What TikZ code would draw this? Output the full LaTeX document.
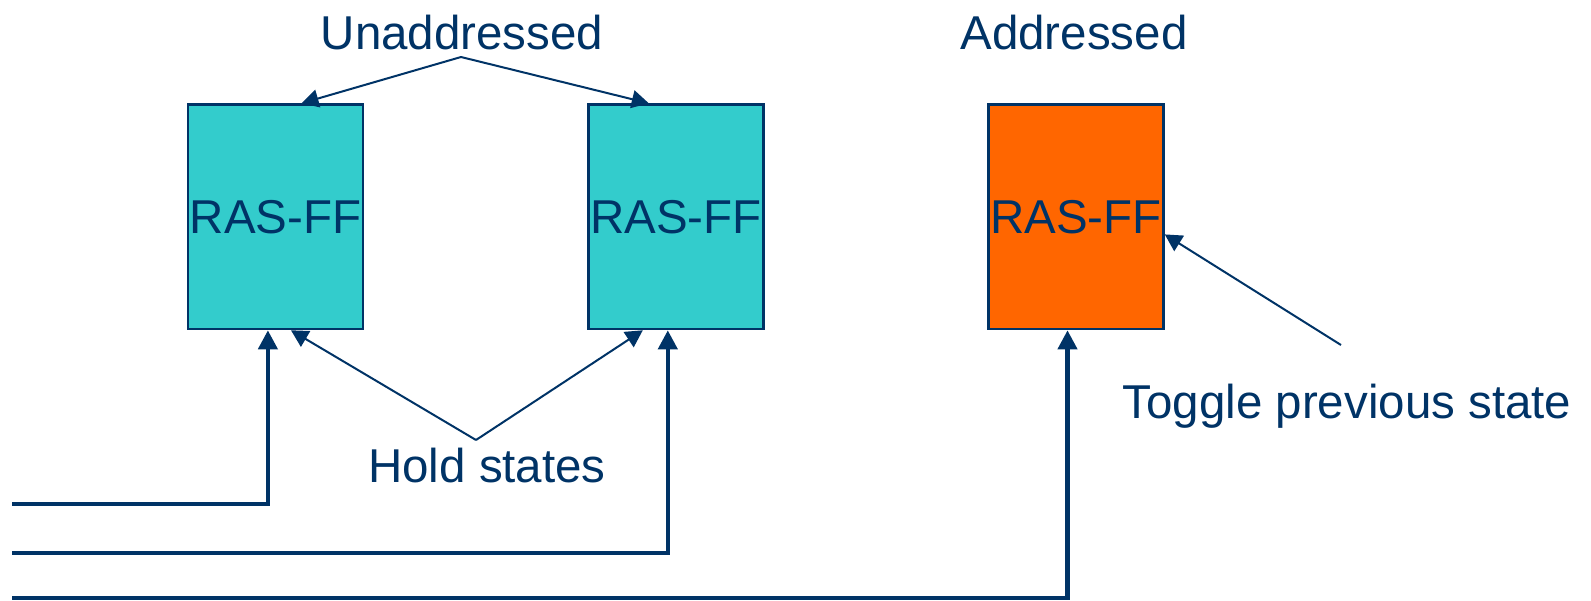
\documentclass[tikz,border=0pt]{standalone}
\usepackage{fontspec}
\setmainfont{Liberation Sans}
\usetikzlibrary{arrows.meta,calc}
\definecolor{navy}{HTML}{003366}
\definecolor{teal}{HTML}{33CCCC}
\definecolor{orng}{HTML}{FF6600}
\tikzset{
  ffbox/.style={draw=navy, line width=2.5pt, minimum width=175pt, minimum height=224.5pt, inner sep=0pt, text=navy, font=\fontsize{47.5}{57}\selectfont},
  lbl/.style={text=navy, font=\fontsize{47.5}{57}\selectfont, inner sep=0pt, anchor=base},
  thinarrow/.style={draw=navy, line width=2pt, -{Triangle[length=17pt,width=18pt]}},
  thickarrow/.style={draw=navy, line width=4.2pt, -{Triangle[length=19pt,width=19pt]}}
}
\begin{document}
\begin{tikzpicture}[x=1pt,y=-1pt]
\useasboundingbox (0,0) rectangle (1591,600);
\node[ffbox, fill=teal] (b1) at (275.5,216.8) {RAS-FF};
\node[ffbox, fill=teal] (b2) at (675.8,216.8) {RAS-FF};
\node[ffbox, fill=orng] (b3) at (1076,216.8) {RAS-FF};
\node[lbl] (un) at (462,49.5) {Unaddressed};
\node[lbl] (ad) at (1074,49) {Addressed};
\node[lbl] (hs) at (487,482) {Hold states};
\node[lbl] (tg) at (1347,418) {Toggle previous state};
\coordinate (ua) at (461,57);
\coordinate (ha) at (476,440);
\coordinate (ta) at (1341,345);
\coordinate (s1) at (12,504);
\coordinate (s2) at (12,553);
\coordinate (s3) at (12,598);
\draw[thinarrow] (ua) -- ($(b1.north)+(26,0)$);
\draw[thinarrow] (ua) -- ($(b2.north)+(-27,0)$);
\draw[thinarrow] (ha) -- ($(b1.south)+(15.5,0)$);
\draw[thinarrow] (ha) -- ($(b2.south)+(-33,0)$);
\draw[thinarrow] (ta) -- ($(b3.east)+(0,17.6)$);
\draw[thickarrow] (s1) -| ($(b1.south)+(-7.6,0)$);
\draw[thickarrow] (s2) -| ($(b2.south)+(-8,0)$);
\draw[thickarrow] (s3) -| ($(b3.south)+(-8.5,0)$);
\end{tikzpicture}
\end{document}
